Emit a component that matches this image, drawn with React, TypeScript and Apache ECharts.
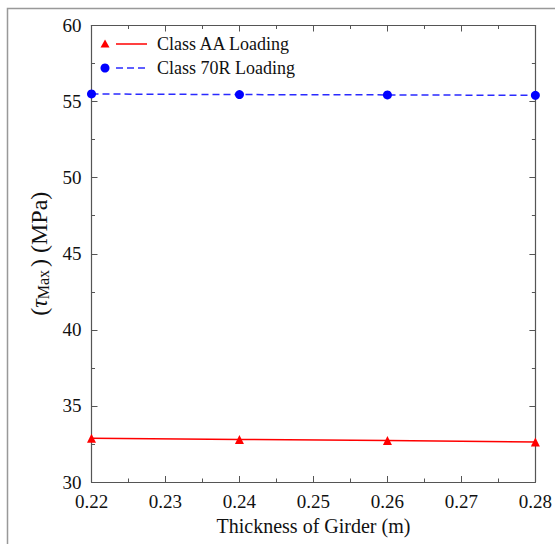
import React, { useEffect, useRef } from "react";
import * as echarts from "echarts";

const thickness = [0.22, 0.24, 0.26, 0.28];
const classAA = [32.88, 32.8, 32.72, 32.63];
const class70R = [55.5, 55.46, 55.44, 55.41];
const seriesNames = ["Class AA Loading", "Class 70R Loading"];
const xTitle = "Thickness of Girder (m)";

const FONT = "Liberation Serif";
const AXIS_COLOR = "#555";

export default function App() {
  const ref = useRef<HTMLDivElement>(null);
  useEffect(() => {
    if (!ref.current) return;
    const chart = echarts.init(ref.current, undefined, { renderer: "svg" });
    const baseAxis = {
      axisLine: { show: true, lineStyle: { color: AXIS_COLOR, width: 1.2 } },
      axisTick: { show: true, inside: true, length: 6, lineStyle: { color: AXIS_COLOR, width: 1 } },
      minorTick: { show: true, splitNumber: 2, length: 3.5, lineStyle: { color: AXIS_COLOR, width: 1 } },
      splitLine: { show: false },
    };
    chart.setOption({
      animation: false,
      backgroundColor: "#fff",
      textStyle: { fontFamily: FONT },
      grid: { left: 91.5, top: 25.5, right: 14, bottom: 62 },
      xAxis: [
        {
          ...baseAxis,
          type: "value",
          min: 0.22,
          max: 0.28,
          interval: 0.01,
          name: xTitle,
          nameLocation: "middle",
          nameGap: 33,
          nameTextStyle: { fontFamily: FONT, fontSize: 20, color: "#111" },
          axisLabel: {
            fontFamily: FONT,
            fontSize: 19,
            color: "#111",
            margin: 10,
            formatter: (v: number) => v.toFixed(2),
          },
        },
        {
          ...baseAxis,
          type: "value",
          position: "top",
          min: 0.22,
          max: 0.28,
          interval: 0.01,
          axisLabel: { show: false },
        },
      ],
      yAxis: [
        {
          ...baseAxis,
          type: "value",
          min: 30,
          max: 60,
          interval: 5,
          name: "({tau|τ}{sub|Max}) (MPa)",
          nameLocation: "middle",
          nameGap: 38,
          nameRotate: 90,
          nameTextStyle: {
            fontFamily: FONT,
            fontSize: 24,
            color: "#111",
            rich: {
              tau: { fontFamily: FONT, fontSize: 24, fontStyle: "italic", color: "#111" },
              sub: { fontFamily: FONT, fontSize: 16, color: "#111", verticalAlign: "bottom", padding: [10, 3, 0, 0] },
            },
          },
          axisLabel: { fontFamily: FONT, fontSize: 19, color: "#111", margin: 10 },
        },
        {
          ...baseAxis,
          type: "value",
          position: "right",
          min: 30,
          max: 60,
          interval: 5,
          axisLabel: { show: false },
        },
      ],
      series: [
        {
          name: seriesNames[0],
          type: "line",
          data: thickness.map((x, i) => [x, classAA[i]]),
          symbol: "triangle",
          symbolSize: 9,
          itemStyle: { color: "#ff0000" },
          lineStyle: { color: "#ff0000", width: 1.5 },
        },
        {
          name: seriesNames[1],
          type: "line",
          data: thickness.map((x, i) => [x, class70R[i]]),
          symbol: "circle",
          symbolSize: 9,
          itemStyle: { color: "#0000ff" },
          lineStyle: { color: "#2a2aff", width: 1.5, type: [7, 4] },
        },
      ],
      graphic: [
        {
          type: "rect",
          shape: { x: 7.5, y: 8.5, width: 700, height: 700 },
          style: { fill: "none", stroke: "#999", lineWidth: 1.5 },
          silent: true,
        },
        {
          type: "polygon",
          shape: { points: [[105, 39.5], [100.5, 47.5], [109.5, 47.5]] },
          style: { fill: "#ff0000" },
        },
        {
          type: "line",
          shape: { x1: 116, y1: 44, x2: 147, y2: 44 },
          style: { stroke: "#ff0000", lineWidth: 1.5 },
        },
        {
          type: "text",
          x: 157,
          y: 44,
          style: { text: seriesNames[0], fontFamily: FONT, fontSize: 18, fill: "#111", verticalAlign: "middle" },
        },
        {
          type: "circle",
          shape: { cx: 105, cy: 68, r: 4.5 },
          style: { fill: "#0000ff" },
        },
        {
          type: "line",
          shape: { x1: 116, y1: 68, x2: 147, y2: 68 },
          style: { stroke: "#2a2aff", lineWidth: 1.5, lineDash: [7, 4] },
        },
        {
          type: "text",
          x: 157,
          y: 68,
          style: { text: seriesNames[1], fontFamily: FONT, fontSize: 18, fill: "#111", verticalAlign: "middle" },
        },
      ],
    });
    return () => chart.dispose();
  }, []);
  return (
    <div
      ref={ref}
      style={{ position: "absolute", left: 0, top: 0, width: 555, height: 544 }}
    />
  );
}
